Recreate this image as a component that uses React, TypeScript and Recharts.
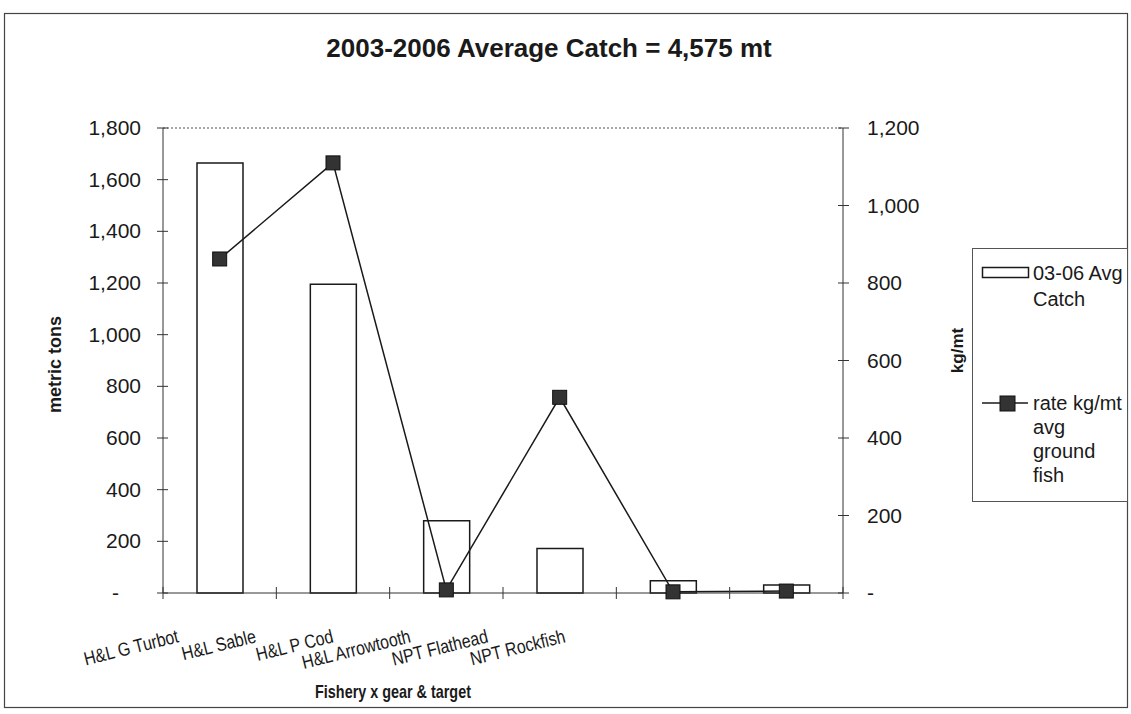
import React from "react";
import {
  ComposedChart,
  Bar,
  Line,
  XAxis,
  YAxis,
  ReferenceLine,
} from "recharts";

const fisheries = [
  "H&L G Turbot",
  "H&L Sable",
  "H&L P Cod",
  "H&L Arrowtooth",
  "NPT Flathead",
  "NPT Rockfish",
];
const avgCatch = [1665, 1195, 280, 172, 47, 31];
const rateKgMt = [862, 1110, 8, 505, 3, 5];
const leftTicks = [0, 200, 400, 600, 800, 1000, 1200, 1400, 1600, 1800];
const rightTicks = [0, 200, 400, 600, 800, 1000, 1200];

const data = fisheries.map((name, i) => ({
  name,
  catch: avgCatch[i],
  rate: rateKgMt[i],
}));

const FONT = "'Liberation Sans', Arial, Helvetica, sans-serif";
const INK = "#1a1a1a";

const fmt = (v: number) => (v === 0 ? "-" : v.toLocaleString("en-US"));

const LeftTick = (props: any) => {
  const { x, y, payload } = props;
  const zero = payload.value === 0;
  return (
    <g>
      <line x1={x - 6} x2={x + 5} y1={y} y2={y} stroke="#333" />
      <text
        x={zero ? x - 44 : x - 22}
        y={y}
        dy={7}
        textAnchor="end"
        fontSize={21}
        fontFamily={FONT}
        fill={INK}
      >
        {fmt(payload.value)}
      </text>
    </g>
  );
};

const RightTick = (props: any) => {
  const { x, y, payload } = props;
  return (
    <g>
      <line x1={x - 5} x2={x + 6} y1={y} y2={y} stroke="#333" />
      <text
        x={x + 24}
        y={y}
        dy={7}
        textAnchor="start"
        fontSize={21}
        fontFamily={FONT}
        fill={INK}
      >
        {fmt(payload.value)}
      </text>
    </g>
  );
};

// category label + tick marks at the band edges
const CatTick = (props: any) => {
  const { x, y, payload, index, visibleTicksCount } = props;
  const half = payload.offset ?? 680 / 12;
  const left = x - half;
  const endX = x - 40 - 36 * index;
  const endY = y + 49;
  return (
    <g>
      <line x1={left} x2={left} y1={y - 6} y2={y + 6} stroke="#333" />
      {index === visibleTicksCount - 1 && (
        <line x1={x + half} x2={x + half} y1={y - 6} y2={y + 6} stroke="#333" />
      )}
      <text
        x={0}
        y={0}
        textAnchor="end"
        transform={`translate(${endX} ${endY}) rotate(-14) scale(0.84 1)`}
        fontSize={19}
        fontFamily={FONT}
        fill={INK}
      >
        {payload.value}
      </text>
    </g>
  );
};

const SquareDot = (props: any) => {
  const { cx, cy, index } = props;
  if (cx == null || cy == null) return <g key={index} />;
  return (
    <rect
      key={index}
      x={cx - 7}
      y={cy - 7}
      width={14}
      height={14}
      fill="#333"
      stroke="#111"
    />
  );
};

export default function App() {
  return (
    <div
      style={{
        position: "absolute",
        left: 0,
        top: 0,
        width: 1131,
        height: 714,
        background: "#fff",
      }}
    >
      <ComposedChart
        width={1131}
        height={714}
        data={data}
        margin={{ top: 128, right: 228, bottom: 21, left: 103 }}
      >
        <XAxis
          dataKey="name"
          xAxisId="cat"
          height={100}
          interval={0}
          tickSize={0}
          tickMargin={0}
          tickLine={false}
          axisLine={{ stroke: "#333" }}
          tick={<CatTick />}
          label={{
            content: (p: any) => {
              const vb = p.viewBox;
              const lx = vb.x + vb.width / 2 - 110;
              const ly = vb.y + 105;
              return (
                <text
                  x={0}
                  y={0}
                  transform={`translate(${lx} ${ly}) scale(0.8 1)`}
                  textAnchor="middle"
                  fontSize={18}
                  fontWeight="bold"
                  fontFamily={FONT}
                  fill={INK}
                >
                  Fishery x gear &amp; target
                </text>
              );
            },
          }}
        />
        <YAxis
          yAxisId="left"
          orientation="left"
          width={60}
          domain={[0, 1800]}
          ticks={leftTicks}
          tickSize={0}
          tickMargin={0}
          tickLine={false}
          axisLine={{ stroke: "#333" }}
          tick={<LeftTick />}
          label={{
            content: (p: any) => {
              const vb = p.viewBox;
              const lx = vb.x - 48;
              const ly = vb.y + vb.height / 2 + 4;
              return (
                <text
                  x={lx}
                  y={ly}
                  transform={`rotate(-90 ${lx} ${ly})`}
                  textAnchor="middle"
                  dominantBaseline="central"
                  fontSize={18}
                  fontWeight="bold"
                  fontFamily={FONT}
                  fill={INK}
                >
                  metric tons
                </text>
              );
            },
          }}
        />
        <YAxis
          yAxisId="right"
          orientation="right"
          width={60}
          domain={[0, 1200]}
          ticks={rightTicks}
          tickSize={0}
          tickMargin={0}
          tickLine={false}
          axisLine={{ stroke: "#333" }}
          tick={<RightTick />}
          label={{
            content: (p: any) => {
              const vb = p.viewBox;
              const lx = vb.x + 114;
              const ly = vb.y + vb.height / 2 - 10;
              return (
                <text
                  x={lx}
                  y={ly}
                  transform={`rotate(-90 ${lx} ${ly})`}
                  textAnchor="middle"
                  dominantBaseline="central"
                  fontSize={17}
                  fontWeight="bold"
                  fontFamily={FONT}
                  fill={INK}
                >
                  kg/mt
                </text>
              );
            },
          }}
        />
        <ReferenceLine
          xAxisId="cat"
          yAxisId="left"
          y={1800}
          stroke="#555"
          strokeDasharray="2 2"
        />
        <Bar
          xAxisId="cat"
          yAxisId="left"
          dataKey="catch"
          name="03-06 Avg Catch"
          barSize={46}
          fill="#fff"
          stroke={INK}
          strokeWidth={1.5}
          isAnimationActive={false}
        />
        <Line
          xAxisId="cat"
          yAxisId="right"
          type="linear"
          dataKey="rate"
          name="rate kg/mt avg ground fish"
          stroke={INK}
          strokeWidth={1.5}
          dot={<SquareDot />}
          activeDot={false}
          isAnimationActive={false}
        />
      </ComposedChart>

      <svg
        width={1131}
        height={714}
        style={{ position: "absolute", left: 0, top: 0, pointerEvents: "none" }}
        fontFamily={FONT}
      >
        <rect x={4.5} y={13.5} width={1123} height={694} fill="none" stroke="#444" strokeWidth={1.2} />
        <text x={549} y={57} textAnchor="middle" fontSize={26} fontWeight="bold" fill={INK}>
          2003-2006 Average Catch = 4,575 mt
        </text>
        <g>
          <rect x={972.5} y={248.5} width={155} height={253} fill="#fff" stroke="#555" />
          <rect x={982.5} y={267.5} width={46} height={10} fill="#fff" stroke={INK} strokeWidth={1.5} />
          <text x={1033} y={280} fontSize={20} fill={INK}>03-06 Avg</text>
          <text x={1033} y={306} fontSize={20} fill={INK}>Catch</text>
          <line x1={982} x2={1028} y1={403} y2={403} stroke={INK} strokeWidth={1.5} />
          <rect x={1000} y={396} width={15} height={15} fill="#333" stroke="#111" />
          <text x={1033} y={410} fontSize={20} fill={INK}>rate kg/mt</text>
          <text x={1033} y={434} fontSize={20} fill={INK}>avg</text>
          <text x={1033} y={458} fontSize={20} fill={INK}>ground</text>
          <text x={1033} y={482} fontSize={20} fill={INK}>fish</text>
        </g>
      </svg>
    </div>
  );
}
